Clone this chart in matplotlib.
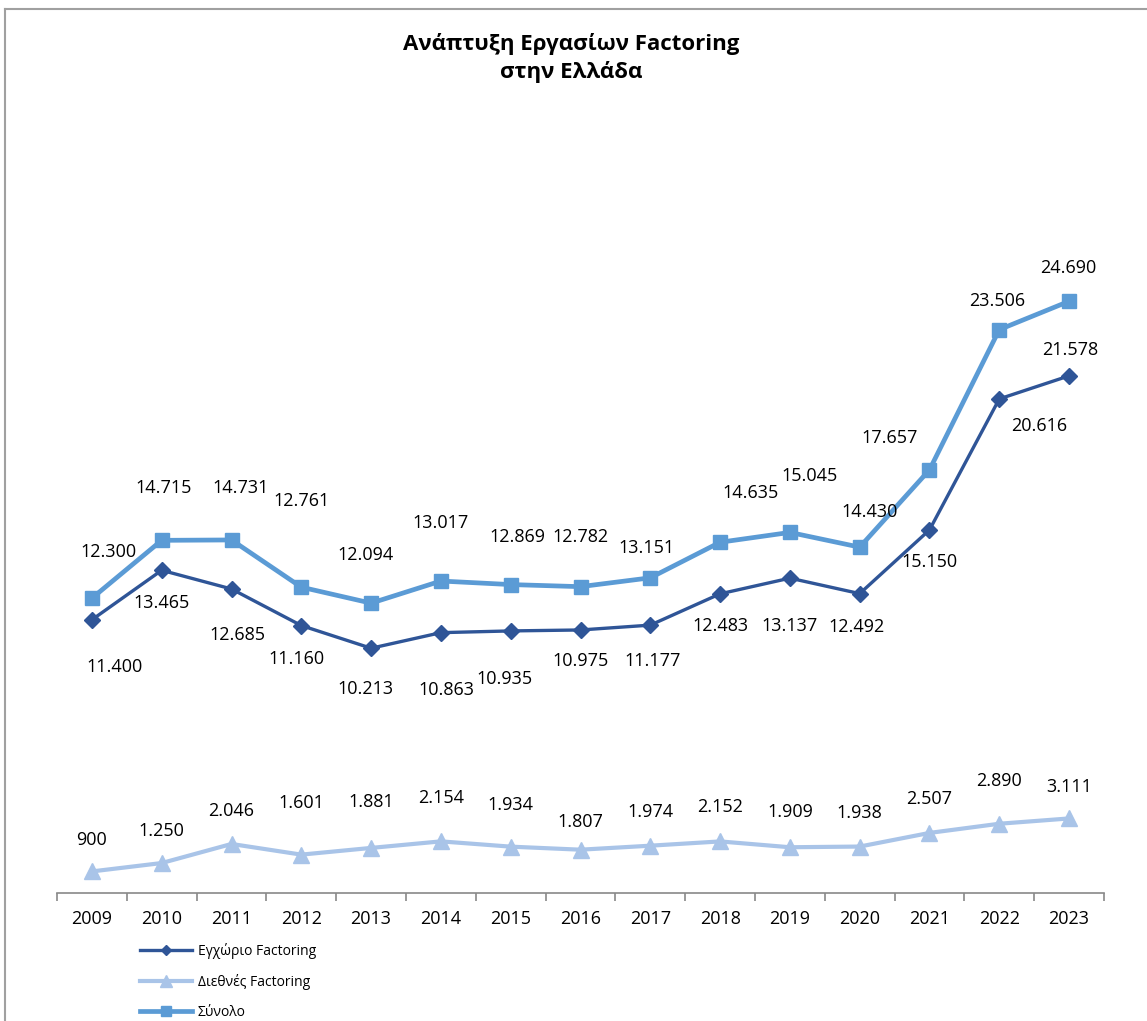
import matplotlib.pyplot as plt
from matplotlib.lines import Line2D

years = ['2009', '2010', '2011', '2012', '2013', '2014', '2015', '2016',
         '2017', '2018', '2019', '2020', '2021', '2022', '2023']
domestic = [11400, 13465, 12685, 11160, 10213, 10863, 10935, 10975,
            11177, 12483, 13137, 12492, 15150, 20616, 21578]
international = [900, 1250, 2046, 1601, 1881, 2154, 1934, 1807,
                 1974, 2152, 1909, 1938, 2507, 2890, 3111]
total = [12300, 14715, 14731, 12761, 12094, 13017, 12869, 12782,
         13151, 14635, 15045, 14430, 17657, 23506, 24690]

# label placement (pixel offsets from the marker, Excel style)
off_total = [(17, 46), (2, 52), (9, 52), (0, 86), (-6, 48), (0, 58), (7, 48), (0, 50),
             (-4, 30), (30, 49), (20, 56), (10, 35), (-40, 32), (-2, 29), (-1, 33)]
off_dom = [(23, -47), (0, -33), (6, -46), (-5, -33), (-6, -41), (6, -57), (-6, -48), (0, -31),
           (2, -36), (0, -32), (0, -48), (-3, -33), (0, -32), (40, -27), (1, 26)]
off_int = [(0, 31), (0, 32), (0, 33), (0, 52), (0, 46), (0, 43), (0, 42), (0, 28),
           (0, 34), (0, 34), (0, 35), (0, 34), (0, 34), (0, 43), (0, 31)]

def fmt(v):
    return '{:,}'.format(v).replace(',', '.')

plt.rcParams['font.family'] = ['Open Sans', 'DejaVu Sans']

c_dom = '#2F5597'
c_int = '#A9C4E8'
c_tot = '#5B9BD5'

fig = plt.figure(figsize=(11.47, 10.21), dpi=100)
ax = fig.add_axes([57/1147, 1-893/1021, 1047/1147, 719/1021])
x = range(len(years))

ax.plot(x, domestic, color=c_dom, lw=2.4, marker='D', ms=8, label='Εγχώριο Factoring')
ax.plot(x, international, color=c_int, lw=3, marker='^', ms=12, label='Διεθνές Factoring')
ax.plot(x, total, color=c_tot, lw=3.4, marker='s', ms=10, label='Σύνολο')

for vals, offs in ((total, off_total), (domestic, off_dom), (international, off_int)):
    for i, v in enumerate(vals):
        ax.annotate(fmt(v), (i, v), xytext=offs[i], textcoords='offset pixels',
                    ha='center', va='center', fontsize=13, color='#000000')

ax.set_xlim(-0.5, len(years) - 0.5)
ax.set_ylim(0, 30000)
ax.set_xticks(x)
ax.set_xticklabels(years, fontsize=13)
ax.set_xticks([i - 0.5 for i in range(len(years) + 1)], minor=True)
ax.tick_params(axis='x', which='major', length=0, pad=12)
ax.tick_params(axis='x', which='minor', length=6, color='#898989', width=1.2)
ax.set_yticks([])
for s in ('top', 'right', 'left'):
    ax.spines[s].set_visible(False)
ax.spines['bottom'].set_color('#898989')
ax.spines['bottom'].set_linewidth(1.2)

fig.text(571/1147, 1-58/1021, 'Ανάπτυξη Εργασίων Factoring\nστην Ελλάδα', ha='center',
         va='center', fontsize=16, fontweight='bold', linespacing=1.3)

leg = fig.legend(loc='upper left', bbox_to_anchor=(134/1147, 1-937/1021), frameon=False,
                 fontsize=10, handlelength=3.8, labelspacing=1.1, handletextpad=0.4,
                 borderaxespad=0, markerscale=0.7)

# chart area border
fig.add_artist(Line2D([5/1147, 1], [1-9/1021, 1-9/1021], color='#A0A0A0', lw=1.5))
fig.add_artist(Line2D([5/1147, 5/1147], [0, 1-9/1021], color='#A0A0A0', lw=1.5))

fig.savefig('out.png', dpi=100)
